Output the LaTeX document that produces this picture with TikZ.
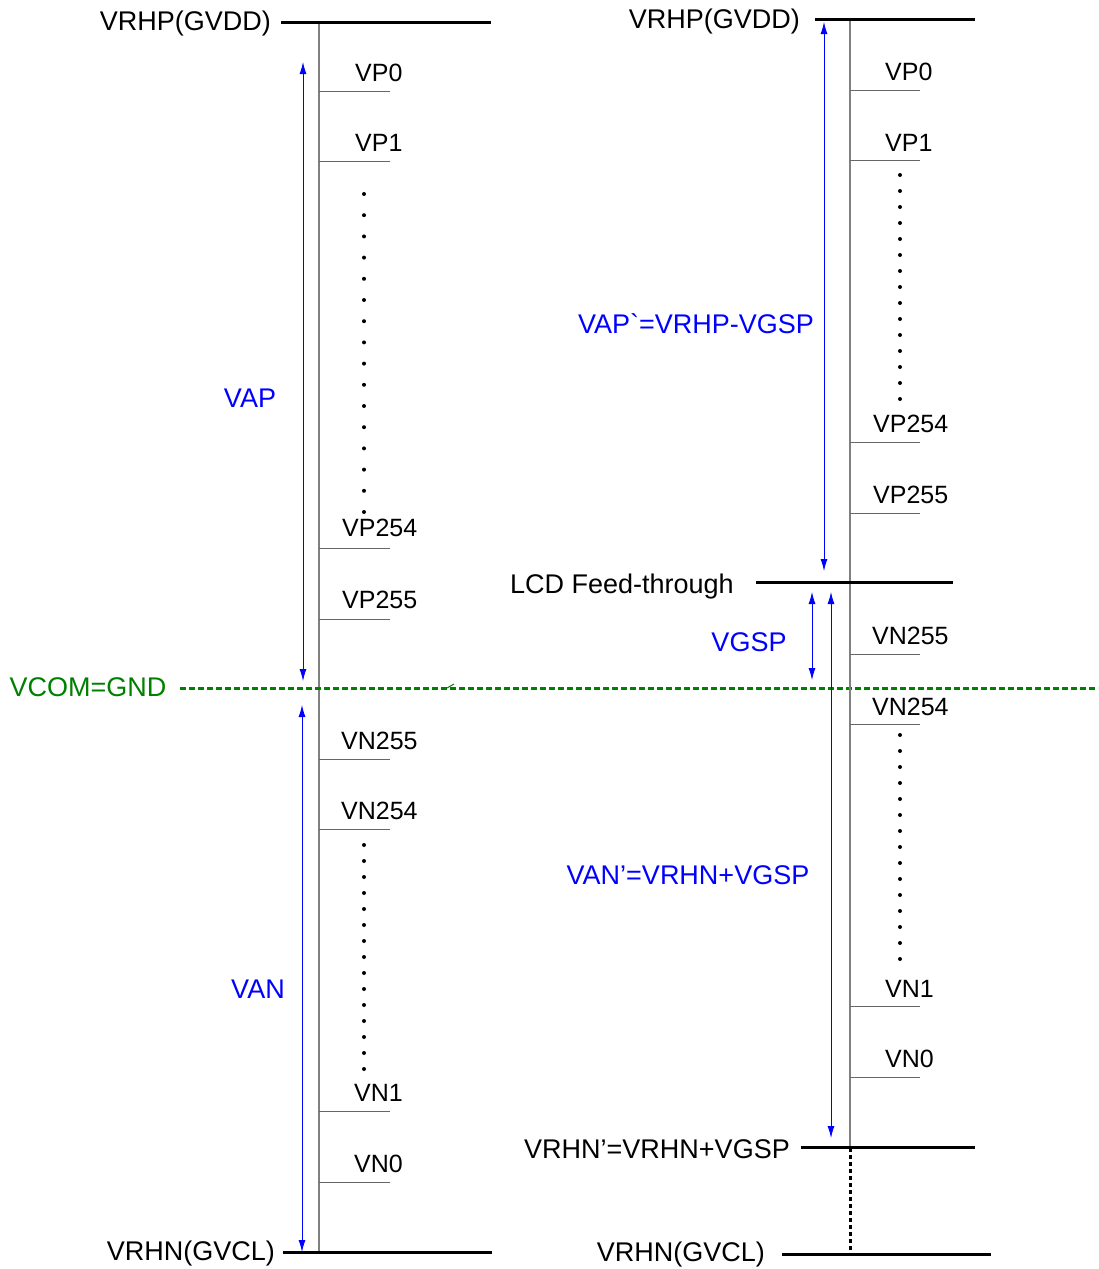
\documentclass[tikz,border=0pt]{standalone}
\usepackage{fontspec}
\setmainfont{Liberation Sans}
\usetikzlibrary{arrows.meta}
\definecolor{vgreen}{RGB}{0,128,0}
\begin{document}
\begin{tikzpicture}[x=1pt,y=-1pt,
 lvl/.style={line width=3pt, black},
 rail/.style={line width=1.5pt, black!50},
 tickln/.style={line width=1pt, black!60},
 lbl/.style={font=\fontsize{27}{30}\selectfont, inner sep=0pt},
 tlbl/.style={font=\fontsize{25}{30}\selectfont, inner sep=0pt, anchor=west},
 blbl/.style={font=\fontsize{27}{30}\selectfont, text=blue, inner sep=0pt},
 dimarr/.style={blue, line width=0.9pt, {Latex[length=12pt,width=7pt]}-{Latex[length=12pt,width=7pt]}},
 dotcol/.style={black},
 gnd/.style={vgreen, line width=3pt, dash pattern=on 6pt off 3pt},
 vdash/.style={black, line width=3pt, dash pattern=on 4pt off 3pt}
]
\useasboundingbox (0,0) rectangle (1098,1269);

% ---------------- left column ----------------
\coordinate (LtopA) at (281,22);  \coordinate (LtopB) at (491,22);
\coordinate (LbotA) at (283,1252); \coordinate (LbotB) at (492,1252);
\coordinate (LrT) at (319,22); \coordinate (LrB) at (319,1252);
\draw[rail] (LrT) -- (LrB);
\draw[lvl] (LtopA) -- (LtopB);
\draw[lvl] (LbotA) -- (LbotB);
\node[lbl, anchor=east] (Lvrhp) at (271,24) {VRHP(GVDD)};
\node[lbl, anchor=east] (Lvrhn) at (275,1253) {VRHN(GVCL)};

\foreach \y/\t/\lx/\ly/\nm in {91/VP0/355/73/lvp0, 161/VP1/355/143/lvp1, 548/VP254/342/528/lvp254, 619/VP255/342/600/lvp255,
  759/VN255/341/741/lvn255, 829/VN254/341/811/lvn254, 1111/VN1/354/1093/lvn1, 1182/VN0/354/1164/lvn0}{
  \draw[tickln] (319,\y) -- (390,\y);
  \node[tlbl] (\nm) at (\lx,\ly) {\t};
}
\foreach \y in {194,215.2,...,513} \fill[dotcol] (364,\y) circle (2pt);
\foreach \y in {845,861,...,1070} \fill[dotcol] (364,\y) circle (2pt);

\coordinate (LapT) at (303,62); \coordinate (LapB) at (303,681);
\coordinate (LanT) at (302,705); \coordinate (LanB) at (302,1252);
\draw[dimarr] (LapT) -- (LapB);
\draw[dimarr] (LanT) -- (LanB);
\node[blbl] (vap) at (250,398) {VAP};
\node[blbl] (van) at (258,989) {VAN};

% ---------------- VCOM ----------------
\coordinate (gA) at (180,688); \coordinate (gB) at (1098,688);
\draw[gnd] (gA) -- (gB);
\coordinate (gmA) at (447,688); \coordinate (gmB) at (454,684);
\draw[vgreen, line width=1pt] (gmA) -- (gmB);
\node[lbl, text=vgreen] (vcom) at (88,687) {VCOM=GND};

% ---------------- right column ----------------
\coordinate (RtopA) at (815,19); \coordinate (RtopB) at (975,19);
\coordinate (RrT) at (850,19); \coordinate (RrB) at (850,1147);
\draw[rail] (RrT) -- (RrB);
\draw[lvl] (RtopA) -- (RtopB);
\node[lbl, anchor=east] (Rvrhp) at (800,22) {VRHP(GVDD)};

\coordinate (LcdA) at (756,582); \coordinate (LcdB) at (953,582);
\draw[lvl] (LcdA) -- (LcdB);
\node[lbl, anchor=east] (lcd) at (734,587) {LCD Feed-through};

\coordinate (RnpA) at (801,1147); \coordinate (RnpB) at (975,1147);
\draw[lvl] (RnpA) -- (RnpB);
\node[lbl, anchor=east] (vrhnp) at (790,1149) {VRHN’=VRHN+VGSP};

\coordinate (RbotA) at (782,1254); \coordinate (RbotB) at (991,1254);
\draw[lvl] (RbotA) -- (RbotB);
\node[lbl, anchor=east] (Rvrhn) at (765,1254) {VRHN(GVCL)};
\coordinate (RdT) at (850,1148); \coordinate (RdB) at (850,1254);
\draw[vdash] (RdT) -- (RdB);

\foreach \y/\t/\lx/\ly/\nm in {90/VP0/885/72/rvp0, 160/VP1/885/143/rvp1, 442/VP254/873/424/rvp254, 513/VP255/873/495/rvp255,
  654/VN255/872/636/rvn255, 724/VN254/872/707/rvn254, 1006/VN1/885/989/rvn1, 1077/VN0/885/1059/rvn0}{
  \draw[tickln] (850,\y) -- (920,\y);
  \node[tlbl] (\nm) at (\lx,\ly) {\t};
}
\foreach \y in {175,191,...,400} \fill[dotcol] (900,\y) circle (2pt);
\foreach \y in {735,751,...,960} \fill[dotcol] (900,\y) circle (2pt);

\coordinate (RapT) at (824,22); \coordinate (RapB) at (824,571);
\coordinate (RgT) at (812,592); \coordinate (RgB) at (812,680);
\coordinate (RanT) at (831,592); \coordinate (RanB) at (831,1138);
\draw[dimarr] (RapT) -- (RapB);
\draw[dimarr] (RgT) -- (RgB);
\draw[dimarr] (RanT) -- (RanB);
\node[blbl] (vapp) at (696,324) {VAP\textasciigrave=VRHP-VGSP};
\node[blbl] (vgsp) at (749,642) {VGSP};
\node[blbl] (vanp) at (688,875) {VAN’=VRHN+VGSP};
\end{tikzpicture}
\end{document}
